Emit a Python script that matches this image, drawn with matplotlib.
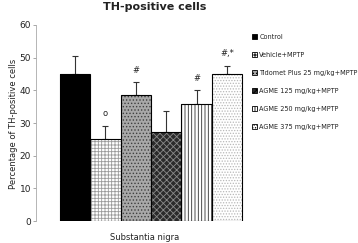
import matplotlib
matplotlib.use("Agg")
import matplotlib.pyplot as plt
from matplotlib.patches import Patch

groups = ["Control", "Vehicle+MPTP", "Tidomet Plus 25 mg/kg+MPTP",
          "AGME 125 mg/kg+MPTP", "AGME 250 mg/kg+MPTP", "AGME 375 mg/kg+MPTP"]
means = [45.0, 25.1, 38.7, 27.1, 35.7, 45.0]
errors = [5.5, 4.1, 3.7, 6.6, 4.3, 2.6]
marks = ["", "o", "#", "", "#", "#,*"]
yticks = [0, 10, 20, 30, 40, 50, 60]

faces = ["#000000", "#ffffff", "#a8a8a8", "#2a2a2a", "#ffffff", "#ffffff"]
hatches = [None, "+++++", ".....", "xxxxx", "|||||", "......"]
hcolors = ["#000000", "#9a9a9a", "#404040", "#8a8a8a", "#303030", "#b8b8b8"]

plt.rcParams["hatch.linewidth"] = 0.6
fig = plt.figure(figsize=(3.58, 2.43), dpi=100)
ax = fig.add_axes([36/358, 22/243, 210/358, 196/243])

x = list(range(len(groups)))
for i in x:
    ax.bar(i, means[i], width=1.0, color=faces[i], hatch=hatches[i],
           edgecolor=hcolors[i], linewidth=0, zorder=2)
    ax.bar(i, means[i], width=1.0, fill=False, edgecolor="black",
           linewidth=0.8, zorder=3)
    ax.errorbar(i, means[i], yerr=[[0], [errors[i]]], fmt="none",
                ecolor="#333333", elinewidth=0.8, capsize=2, capthick=0.8, zorder=1)
    if marks[i]:
        ax.text(i, means[i] + errors[i] + 2.2, marks[i], ha="center", va="bottom",
                fontsize=6, color="#222222")

ax.set_xlim(-1.29, 5.63)
ax.set_ylim(0, 60)
ax.set_yticks(yticks)
ax.tick_params(axis="y", direction="out", length=2, width=0.6, color="#999999",
               labelsize=6.5, labelcolor="#222222", pad=1.5)
ax.set_xticks([])
for s in ["top", "right", "bottom"]:
    ax.spines[s].set_visible(False)
ax.spines["left"].set_color("#aaaaaa")
ax.spines["left"].set_linewidth(0.6)

fig.text(13/358, 1 - 124/243, "Percentage of TH-positive cells", rotation=90,
         ha="center", va="center", fontsize=6, color="#222222")
fig.text(145/358, 1 - 237/243, "Substantia nigra", ha="center", va="center",
         fontsize=6, color="#222222")
fig.text(155/358, 1 - 7/243, "TH-positive cells", ha="center", va="center",
         fontsize=8, fontweight="bold", color="#222222")

handles = [Patch(facecolor=faces[i], hatch=hatches[i], edgecolor="black",
                 linewidth=0.6) for i in x]
leg = fig.legend(handles, groups, loc="upper left",
                 bbox_to_anchor=(249/358, 1 - 31/243), frameon=False,
                 fontsize=4.7, handlelength=0.9, handleheight=0.9,
                 handletextpad=0.3, labelspacing=1.85, borderaxespad=0)
for t in leg.get_texts():
    t.set_color("#222222")

fig.savefig("out.png", dpi=100)
